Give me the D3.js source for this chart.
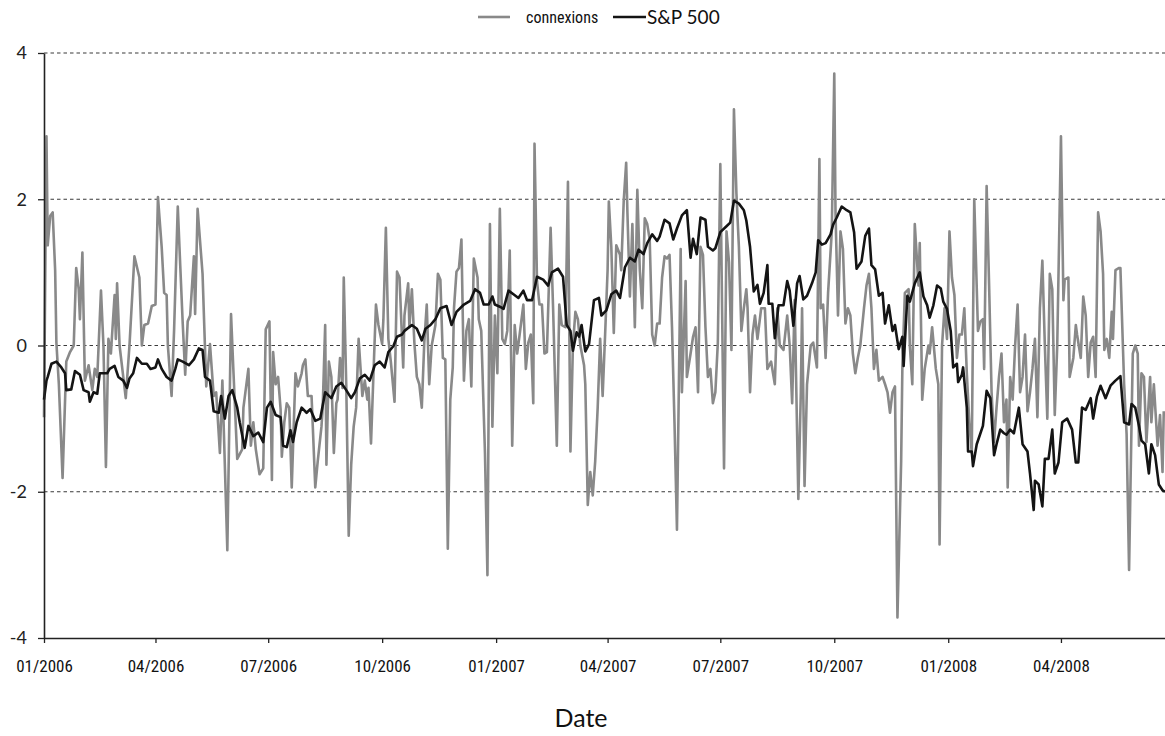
<!DOCTYPE html>
<html>
<head>
<meta charset="utf-8">
<script src="https://cdn.jsdelivr.net/npm/d3@7"></script>
<style>
  html, body { margin: 0; padding: 0; background: #fff; }
  svg { display: block; }
</style>
</head>
<body>
<svg id="chart"></svg>
<script>
// days since 01/01/2006, value
const connexions = [[0,-0.98],[2,2.86],[3,1.37],[5,1.77],[7,1.82],[9,1.03],[10,0.04],[12,-0.53],[15,-1.81],[18,-0.22],[21,-0.09],[24,0],[26,1.06],[28,0.77],[29,0.36],[31,1.27],[33,-0.48],[36,-0.27],[39,-0.61],[41,-0.32],[43,-0.43],[46,0.75],[48,0],[50,-1.66],[52,0.09],[54,-0.11],[57,0.69],[58,0.09],[59,0.85],[61,0],[64,-0.43],[66,-0.72],[69,0],[73,1.22],[77,0.93],[79,0],[81,0.28],[84,0.30],[87,0.54],[90,0.56],[92,2.03],[95,1.35],[97,0.72],[99,0.69],[100,0],[103,-0.69],[105,0.20],[108,1.90],[110,1.09],[112,0.30],[114,-0.40],[116,0.33],[118,0.41],[121,1.22],[122,0.43],[124,1.87],[128,0.98],[131,-0.56],[134,0.02],[137,-0.69],[139,-0.64],[142,-1.47],[144,-0.48],[148,-2.80],[151,0.43],[153,-0.38],[156,-1.55],[160,-1.42],[161,-0.85],[165,-0.32],[167,-1.37],[169,-1.05],[171,-1.42],[174,-1.76],[177,-1.68],[179,0.22],[182,0.33],[184,-1.84],[185,-0.09],[187,-0.53],[189,-0.43],[191,-0.87],[192,-1.52],[194,-1.05],[196,-0.79],[198,-0.85],[200,-1.94],[203,-0.38],[205,-0.56],[208,-0.38],[209,-0.27],[211,-0.19],[213,-0.69],[216,-0.69],[219,-1.94],[221,-1.58],[224,-1.11],[225,-0.85],[227,0.28],[228,-1.63],[230,-0.22],[232,-0.43],[234,-1.47],[236,-0.79],[237,-0.74],[239,-0.17],[241,-0.58],[242,0.93],[244,-0.53],[246,-2.60],[248,-1.63],[250,-1.11],[252,-0.85],[254,0.09],[257,-0.69],[259,-0.48],[261,-0.74],[262,-0.58],[264,-1.34],[266,-0.38],[268,0.56],[270,0.28],[273,0.02],[274,0.36],[276,1.61],[278,0.09],[280,-0.22],[283,-0.77],[285,1.01],[287,0.93],[290,-0.30],[291,0.41],[294,0.85],[295,0.25],[297,0.77],[299,0.04],[301,-0.43],[303,-0.53],[305,-0.85],[307,0.04],[309,0.56],[311,-0.53],[313,0],[316,0.28],[318,0.98],[320,0.90],[322,-0.17],[324,-0.19],[326,-2.78],[328,-0.74],[330,-0.30],[331,0.51],[333,1.01],[335,1.06],[337,1.45],[339,-0.48],[341,0.20],[343,0.36],[345,-0.56],[347,1.19],[350,0.93],[351,0.36],[353,0.20],[356,-1.47],[358,-3.14],[360,1.66],[362,-1.11],[364,0.41],[366,-0.38],[368,1.87],[370,0.09],[372,0.02],[374,0.20],[376,1.30],[378,-1.37],[380,0.28],[382,-0.11],[384,0.15],[387,0.56],[389,-0.32],[391,0.04],[393,0.15],[395,-0.79],[396,2.76],[398,0.88],[400,0.56],[402,0.56],[404,-0.11],[406,-0.09],[409,1.61],[411,0.51],[414,-1.37],[416,0.56],[418,0.28],[421,0.25],[423,2.24],[425,-1.45],[427,0],[429,0.46],[431,0.36],[433,0],[436,-0.27],[437,-0.53],[439,-2.18],[441,-1.73],[443,-2.05],[445,-1.58],[447,-0.85],[449,0.09],[451,-0.69],[453,0.15],[455,1.03],[456,1.97],[458,1.35],[460,0.17],[462,1.37],[465,1.24],[466,1.03],[468,1.97],[470,2.50],[471,1.82],[473,0.67],[475,1.66],[477,0.25],[479,2.13],[481,1.03],[483,0.51],[485,1.74],[487,1.66],[489,1.45],[491,0.15],[493,0],[495,0.30],[497,0.30],[499,0.93],[501,1.22],[503,1.19],[505,1.24],[507,0.25],[509,-1.05],[511,-2.52],[514,1.32],[515,-0.64],[518,0.88],[519,-0.43],[522,-0.11],[524,0.12],[526,0.25],[528,-0.64],[530,1.35],[532,1.24],[534,0.25],[536,-0.43],[538,-0.32],[540,-0.79],[542,-0.64],[544,0.04],[546,2.48],[549,-1.68],[551,1.56],[553,1.14],[555,-0.06],[557,3.23],[559,2.08],[561,1.35],[563,0.20],[565,0.51],[567,0.77],[568,0.51],[570,-0.64],[572,0.15],[574,0.41],[576,0.09],[579,0.51],[582,0.51],[584,-0.32],[587,-0.22],[590,-0.53],[592,0.51],[594,0],[597,-0.06],[600,0.41],[602,0],[604,-0.79],[606,0.62],[609,-2.10],[611,-0.64],[612,0.51],[614,-1.92],[616,-0.53],[619,0],[621,0.04],[624,-0.30],[626,2.55],[627,0.51],[629,0.56],[631,-0.17],[633,0.72],[636,1.56],[638,3.72],[639,1.82],[641,0.41],[643,1.56],[645,1.32],[647,0.30],[649,0.51],[651,0.41],[653,-0.11],[655,-0.38],[657,-0.17],[659,0],[662,0.51],[664,0.82],[666,0.98],[668,0.51],[670,-0.32],[672,-0.06],[674,-0.48],[677,-0.43],[679,-0.53],[681,-0.64],[683,-0.92],[685,-0.64],[687,-0.56],[689,-3.72],[692,-1.58],[693,-0.27],[695,0.72],[698,0.77],[699,0],[701,-0.53],[703,1.66],[706,0.82],[707,1.40],[709,-0.74],[711,-0.32],[714,0],[715,-0.11],[717,0.25],[720,-0.32],[722,-0.53],[723,-2.72],[725,0],[727,0.51],[729,0.09],[731,1.56],[733,0.93],[735,0.69],[737,-0.17],[739,0.15],[741,0.15],[743,0.51],[745,-0.38],[747,-1.05],[749,-1.47],[751,2.00],[754,0.20],[756,0.33],[758,0.36],[759,-0.32],[761,2.18],[763,0.82],[765,-0.64],[767,-1.32],[769,-0.85],[771,-0.43],[773,-0.11],[775,-1.05],[777,-0.74],[778,-1.94],[780,-0.43],[782,-0.74],[784,0],[786,0.56],[788,-0.64],[790,-0.43],[792,0.15],[794,-0.90],[796,-0.64],[798,-0.32],[800,0.09],[802,-0.98],[804,0.51],[806,1.16],[808,0],[810,-1.0],[812,0.98],[814,0.77],[816,-0.95],[818,0],[821,2.86],[823,0.62],[824,0.90],[827,0.93],[828,-0.43],[831,-0.17],[833,0.28],[834,0.15],[837,-0.17],[839,0.67],[841,0.41],[843,-0.43],[845,0.04],[847,0.12],[849,-0.43],[851,1.82],[853,1.56],[855,0.98],[856,-0.06],[858,0.09],[860,-0.17],[862,0.46],[863,0.09],[865,1.03],[868,1.06],[869,1.06],[872,-0.53],[874,-1.21],[876,-3.07],[878,-1.05],[879,-0.11],[881,0],[883,-0.11],[884,-1.37],[886,-0.38],[888,-0.43],[890,-1.32],[893,-0.43],[894,-1.05],[896,-0.53],[899,-1.37],[901,-0.95],[903,-1.73],[904,-0.90]];

const sp500 = [[0,-0.74],[2,-0.48],[3,-0.43],[6,-0.25],[10,-0.22],[14,-0.30],[17,-0.38],[18,-0.61],[22,-0.60],[25,-0.35],[29,-0.40],[32,-0.61],[36,-0.64],[37,-0.77],[40,-0.64],[43,-0.66],[45,-0.38],[51,-0.38],[53,-0.32],[57,-0.28],[60,-0.43],[64,-0.48],[67,-0.58],[69,-0.45],[72,-0.38],[75,-0.17],[79,-0.25],[83,-0.25],[86,-0.32],[90,-0.30],[92,-0.19],[95,-0.32],[99,-0.43],[103,-0.48],[106,-0.32],[108,-0.19],[112,-0.22],[117,-0.27],[121,-0.19],[125,-0.04],[128,-0.06],[130,-0.43],[134,-0.48],[137,-0.90],[141,-0.92],[143,-0.69],[146,-1.0],[149,-0.69],[152,-0.61],[156,-0.85],[158,-1.05],[162,-1.40],[165,-1.1],[169,-1.24],[173,-1.19],[177,-1.32],[180,-0.85],[183,-0.77],[187,-0.95],[191,-0.98],[193,-1.37],[196,-1.39],[199,-1.16],[201,-1.32],[204,-1.05],[208,-0.85],[212,-0.92],[215,-0.87],[219,-1.03],[223,-1.0],[227,-0.64],[232,-0.72],[236,-0.56],[240,-0.51],[244,-0.61],[248,-0.72],[251,-0.64],[255,-0.45],[259,-0.40],[263,-0.48],[267,-0.27],[271,-0.22],[275,-0.30],[278,-0.09],[282,-0.01],[285,0.12],[289,0.15],[291,0.20],[297,0.28],[301,0.23],[305,0.07],[308,0.23],[312,0.28],[316,0.36],[320,0.51],[325,0.54],[329,0.28],[333,0.46],[339,0.56],[344,0.61],[348,0.77],[352,0.72],[355,0.56],[359,0.56],[362,0.67],[364,0.56],[368,0.53],[371,0.50],[375,0.75],[379,0.70],[383,0.65],[387,0.75],[390,0.62],[394,0.62],[398,0.94],[403,0.90],[407,0.82],[410,1.0],[415,1.05],[419,0.94],[422,0.28],[425,0.20],[427,-0.07],[430,0.18],[432,0.12],[434,0.28],[437,-0.08],[440,0.02],[444,0.62],[448,0.65],[450,0.41],[454,0.48],[458,0.70],[462,0.75],[465,0.65],[469,1.07],[473,1.2],[477,1.15],[480,1.31],[484,1.25],[487,1.4],[491,1.52],[495,1.43],[497,1.49],[501,1.72],[505,1.67],[508,1.45],[511,1.6],[515,1.78],[519,1.85],[522,1.2],[524,1.46],[527,1.25],[530,1.75],[534,1.72],[536,1.35],[540,1.3],[542,1.33],[546,1.55],[551,1.63],[554,1.68],[557,1.98],[561,1.94],[565,1.85],[567,1.71],[570,1.35],[573,0.74],[576,0.83],[578,0.57],[581,0.72],[584,1.1],[585,0.57],[588,0.57],[590,0.1],[593,0.55],[597,0.55],[600,0.88],[602,0.75],[605,0.27],[608,0.85],[610,0.95],[613,0.63],[616,0.68],[620,0.85],[623,1.0],[625,1.44],[628,1.38],[631,1.4],[635,1.52],[637,1.65],[640,1.75],[644,1.9],[648,1.85],[651,1.82],[654,1.55],[656,1.05],[660,1.15],[663,1.5],[666,1.6],[668,1.1],[671,1.04],[674,0.68],[677,0.72],[679,0.3],[682,0.55],[685,0.2],[687,0.28],[690,-0.05],[693,0.12],[694,-0.28],[697,0.68],[699,0.6],[703,0.85],[707,1.0],[710,0.67],[713,0.55],[715,0.38],[718,0.55],[721,0.82],[724,0.78],[726,0.6],[729,0.5],[732,0.2],[734,-0.3],[737,-0.25],[738,-0.5],[741,-0.4],[742,-0.3],[745,-0.85],[746,-1.45],[749,-1.45],[750,-1.65],[753,-1.35],[756,-1.2],[758,-1.1],[761,-0.62],[764,-0.72],[767,-1.5],[769,-1.35],[772,-1.15],[775,-1.2],[777,-1.22],[780,-1.15],[783,-1.2],[787,-0.85],[790,-1.35],[794,-1.45],[796,-1.75],[799,-2.25],[800,-1.85],[803,-1.9],[806,-2.2],[808,-1.55],[811,-1.55],[814,-1.15],[816,-1.75],[819,-1.6],[822,-1.05],[826,-1.0],[830,-1.15],[833,-1.6],[835,-1.6],[838,-0.85],[841,-0.88],[845,-0.72],[847,-1.0],[850,-0.7],[853,-0.55],[857,-0.72],[861,-0.55],[865,-0.48],[869,-0.42],[872,-1.05],[876,-1.08],[878,-0.8],[881,-0.85],[884,-1.1],[886,-1.3],[889,-1.35],[892,-1.75],[894,-1.35],[897,-1.5],[900,-1.9],[903,-1.98],[905,-2.0]];

const xTickLabels = ["01/2006", "04/2006", "07/2006", "10/2006", "01/2007", "04/2007",
                     "07/2007", "10/2007", "01/2008", "04/2008"];
const yTicks = [-4, -2, 0, 2, 4];
const series = [
  {key: "connexions", data: connexions, color: "#898989"},
  {key: "S&P 500",    data: sp500,      color: "#141414"},
];

const width = 1165;
const height = 736;
const marginLeft = 44;
const marginRight = 0;
const marginTop = 53;
const marginBottom = 98;

const startDate = new Date(2006, 0, 1);
const endDate = new Date(2008, 5, 24);
const toDate = d => d3.timeDay.offset(startDate, d);
const parseTick = d3.timeParse("%m/%Y");
const fmtTick = d3.timeFormat("%m/%Y");

const svg = d3.select("#chart")
    .attr("width", width)
    .attr("height", height)
    .style("background", "#fff");

const x = d3.scaleTime()
    .domain([startDate, endDate])
    .range([marginLeft, width - marginRight]);
const y = d3.scaleLinear()
    .domain([-4, 4])
    .range([height - marginBottom, marginTop]);

const narrow = "'Liberation Sans Narrow', 'Arial Narrow', 'Roboto Condensed', sans-serif";

// dashed gridlines
svg.append("g")
    .selectAll("line")
    .data(yTicks.filter(t => t > -4))
    .join("line")
    .attr("x1", marginLeft)
    .attr("x2", width - marginRight)
    .attr("y1", d => y(d))
    .attr("y2", d => y(d))
    .attr("stroke", "#3a3a3a")
    .attr("stroke-width", 1.2)
    .attr("stroke-dasharray", "3.5,3");

// lines
const line = d3.line()
    .x(d => x(toDate(d[0])))
    .y(d => y(d[1]));

svg.append("g")
    .selectAll("path")
    .data(series)
    .join("path")
    .attr("fill", "none")
    .attr("stroke", d => d.color)
    .attr("stroke-width", 2.6)
    .attr("stroke-linejoin", "round")
    .attr("d", d => line(d.data));

// vertical axis (plain hyphen for negatives, as in the original)
svg.append("g")
    .attr("transform", `translate(${marginLeft},0)`)
    .call(d3.axisLeft(y).tickValues(yTicks).tickFormat(d => String(d))
        .tickSize(6).tickPadding(11).tickSizeOuter(0))
    .call(g => g.select(".domain").attr("stroke", "#222").attr("stroke-width", 1.6))
    .call(g => g.selectAll(".tick line").attr("stroke", "#222").attr("stroke-width", 1.3))
    .call(g => g.selectAll("text")
        .attr("fill", "#222")
        .style("font-family", "Lato, 'Open Sans', sans-serif")
        .style("font-size", "18px"));

// horizontal axis
svg.append("g")
    .attr("transform", `translate(0,${height - marginBottom})`)
    .call(d3.axisBottom(x)
        .tickValues(xTickLabels.map(parseTick))
        .tickFormat(fmtTick)
        .tickSize(5)
        .tickPadding(17)
        .tickSizeOuter(0))
    .call(g => g.select(".domain").attr("stroke", "#222").attr("stroke-width", 1.6))
    .call(g => g.selectAll(".tick line").attr("stroke", "#222").attr("stroke-width", 1.3))
    .call(g => g.selectAll("text")
        .attr("fill", "#111")
        .style("font-family", narrow)
        .style("font-size", "17px"));

// axis title
svg.append("text")
    .attr("x", 581)
    .attr("y", 727)
    .attr("text-anchor", "middle")
    .attr("fill", "#111")
    .style("font-family", "Lato, 'Open Sans', sans-serif")
    .style("font-size", "25px")
    .text("Date");

// legend
const legend = svg.append("g").attr("transform", "translate(0,17)");
legend.append("line")
    .attr("x1", 478).attr("x2", 510)
    .attr("stroke", series[0].color).attr("stroke-width", 2.6);
legend.append("text")
    .attr("x", 526).attr("dy", "0.35em")
    .attr("fill", "#111")
    .style("font-family", narrow)
    .style("font-size", "16px")
    .text(series[0].key);
legend.append("line")
    .attr("x1", 613).attr("x2", 646)
    .attr("stroke", series[1].color).attr("stroke-width", 2.6);
legend.append("text")
    .attr("x", 647).attr("dy", "0.35em")
    .attr("fill", "#111")
    .style("font-family", "Lato, 'Open Sans', sans-serif")
    .style("font-size", "19px")
    .text(series[1].key);
</script>
</body>
</html>
